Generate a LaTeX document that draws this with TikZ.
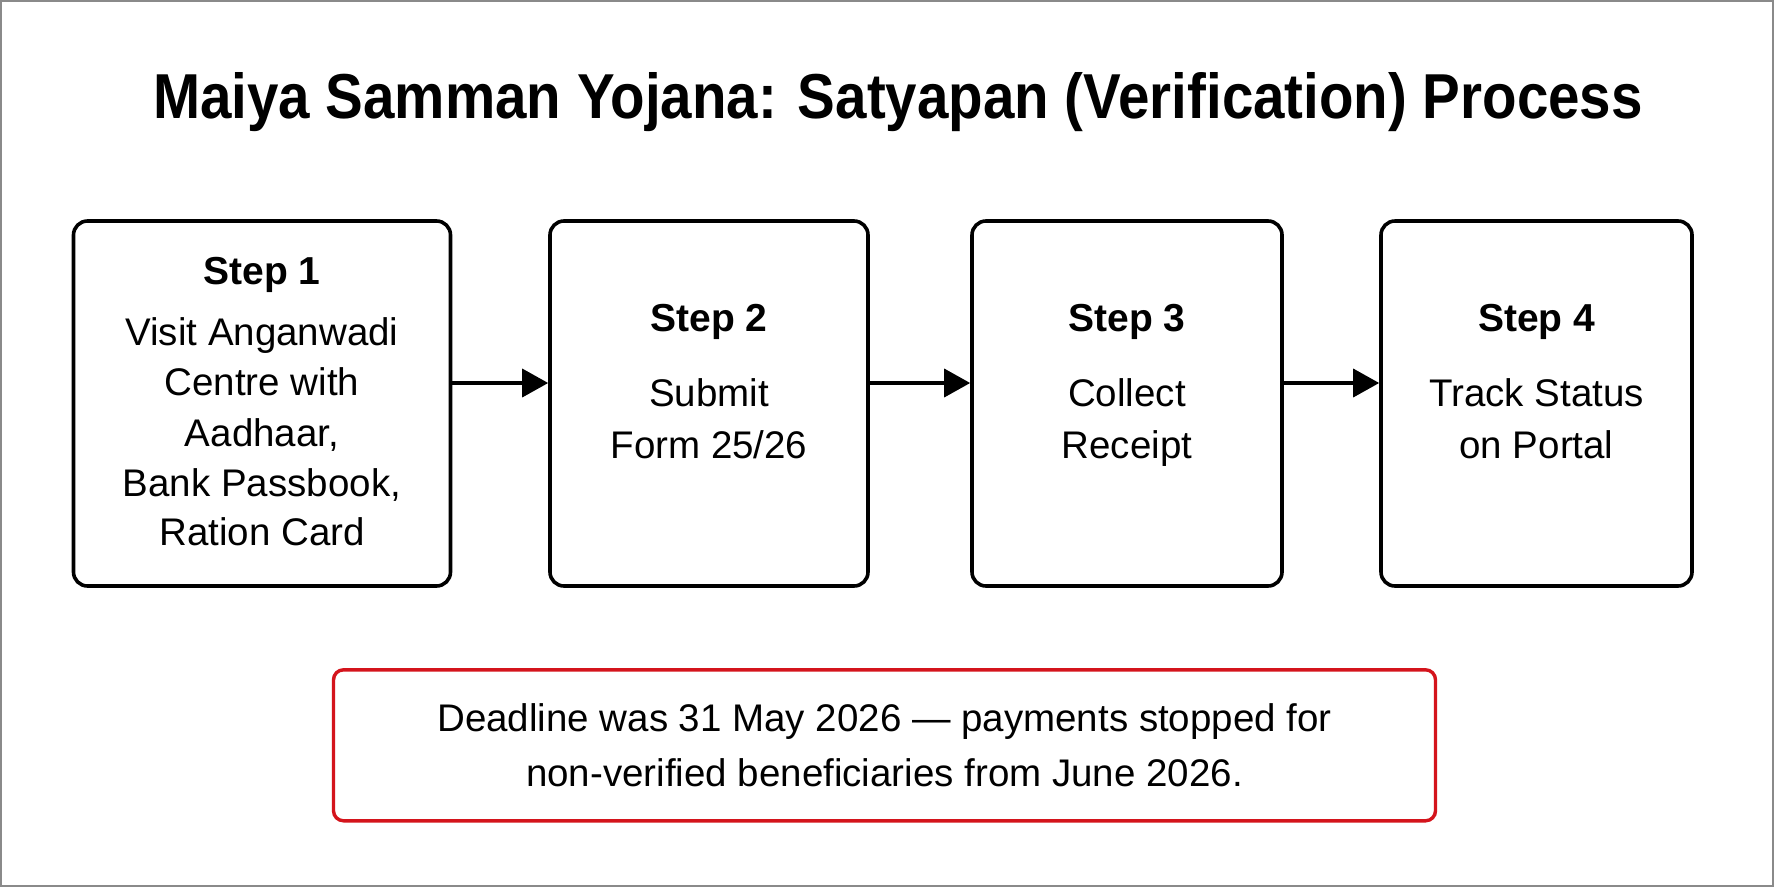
\documentclass[tikz,border=0pt]{standalone}
\usepackage{fontspec}
\setmainfont{Liberation Sans}
\newfontfamily\titlefont[FakeStretch=0.89]{Liberation Sans}
\usetikzlibrary{arrows.meta}
\definecolor{alertred}{HTML}{D4141C}
\definecolor{framegray}{HTML}{8A8A8A}
\tikzset{
  stepbox/.style={draw=black, line width=3.6pt, rounded corners=14pt, fill=white,
    minimum height=365pt, inner sep=0pt},
  alertbox/.style={draw=alertred, line width=3.4pt, rounded corners=10pt, fill=white,
    minimum width=1102pt, minimum height=151pt, inner sep=0pt},
  steptitle/.style={anchor=base, inner sep=0pt, font=\fontsize{39}{46}\selectfont\bfseries},
  steptext/.style={anchor=base, inner sep=0pt, font=\fontsize{38.5}{46}\selectfont},
  flowarrow/.style={line width=3.6pt, -{Triangle[length=26pt,width=28pt]}},
}
\begin{document}
\begin{tikzpicture}[x=1pt,y=-1pt]
\useasboundingbox (0,0) rectangle (1774,887);
\fill[white] (0,0) rectangle (1774,887);
\draw[framegray, line width=2pt] (1,1) rectangle (1773,886);

\node[anchor=base, inner sep=0pt, font=\titlefont\fontsize{63.5}{72}\selectfont\bfseries] (title) at (898,118.3)
  {Maiya Samman Yojana: Satyapan (Verification) Process};

\node[stepbox, minimum width=377pt] (b1) at (262,403.5) {};
\node[stepbox, minimum width=318pt] (b2) at (709,403.5) {};
\node[stepbox, minimum width=310pt] (b3) at (1127,403.5) {};
\node[stepbox, minimum width=311pt] (b4) at (1536.5,403.5) {};

\node[steptitle] (s1) at (262,284) {Step 1};
\node[steptext] (t1a) at (262,345) {Visit Anganwadi};
\node[steptext] (t1b) at (262,395.3) {Centre with};
\node[steptext] (t1c) at (262,446) {Aadhaar,};
\node[steptext] (t1d) at (262,496) {Bank Passbook,};
\node[steptext] (t1e) at (262,545) {Ration Card};

\node[steptitle] (s2) at (709,331) {Step 2};
\node[steptext] (t2a) at (709,406) {Submit};
\node[steptext] (t2b) at (709,458) {Form 25/26};

\node[steptitle] (s3) at (1127,331) {Step 3};
\node[steptext] (t3a) at (1127,406) {Collect};
\node[steptext] (t3b) at (1127,458) {Receipt};

\node[steptitle] (s4) at (1536.5,331) {Step 4};
\node[steptext] (t4a) at (1536.5,406) {Track Status};
\node[steptext] (t4b) at (1536.5,458) {on Portal};

\draw[flowarrow] ([yshift=20.5pt]b1.east) -- ([yshift=20.5pt]b2.west);
\draw[flowarrow] ([yshift=20.5pt]b2.east) -- ([yshift=20.5pt]b3.west);
\draw[flowarrow] ([yshift=20.5pt]b3.east) -- ([yshift=20.5pt]b4.west);

\node[alertbox] (alert) at (884.5,745.3) {};
\node[steptext] (a1) at (884.5,731.7) {Deadline was 31 May 2026 — payments stopped for};
\node[steptext] (a2) at (884.5,786) {non-verified beneficiaries from June 2026.};
\end{tikzpicture}
\end{document}
